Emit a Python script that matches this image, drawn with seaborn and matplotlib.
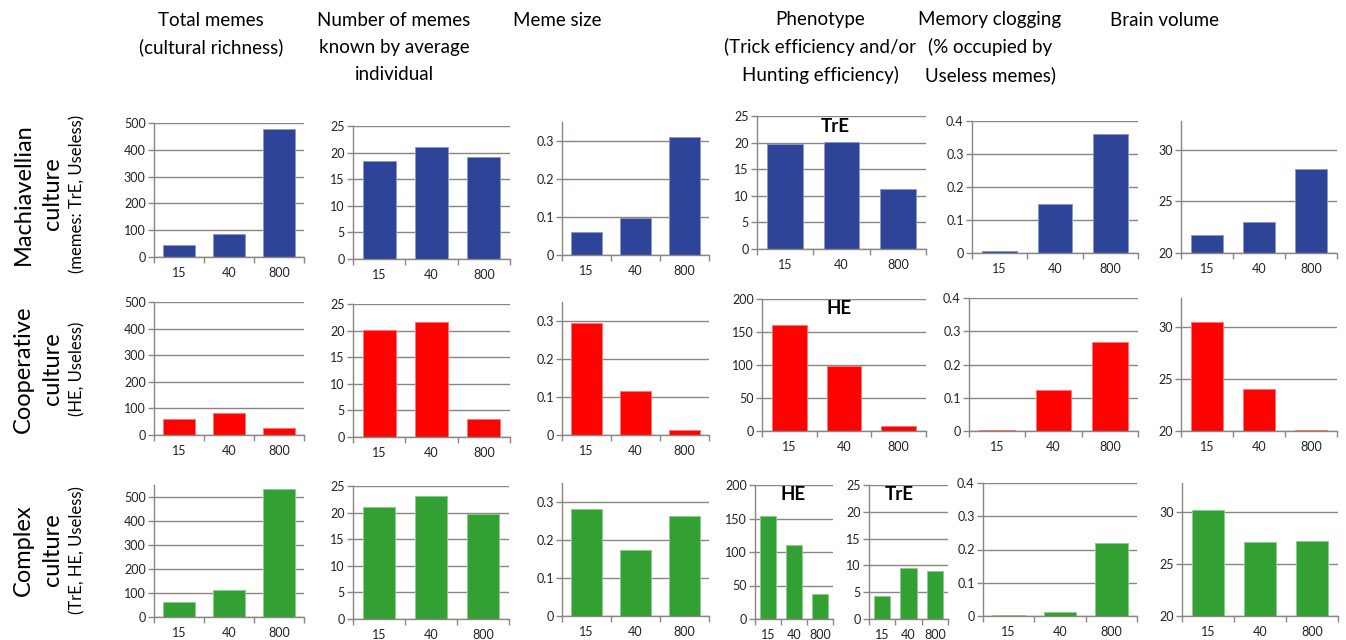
import matplotlib
matplotlib.use("Agg")
import matplotlib.pyplot as plt
from matplotlib.ticker import FuncFormatter
from matplotlib.colors import to_rgb
import seaborn as sns

# ---------------------------------------------------------------- data
population = ["15", "40", "800"]

# Machiavellian culture (memes: TrE, Useless)
mach_total = [45, 87, 478]
mach_known = [18.4, 21.0, 19.1]
mach_size = [0.061, 0.097, 0.31]
mach_tre = [19.7, 20.2, 11.2]
mach_clog = [0.007, 0.148, 0.362]
mach_brain = [21.7, 23.0, 28.1]

# Cooperative culture (HE, Useless)
coop_total = [62, 83, 25]
coop_known = [20.1, 21.7, 3.3]
coop_size = [0.294, 0.116, 0.012]
coop_he = [160, 98, 8]
coop_clog = [0.003, 0.122, 0.268]
coop_brain = [30.5, 24.0, 20.1]

# Complex culture (TrE, HE, Useless)
comp_total = [64, 111, 532]
comp_known = [21.0, 23.2, 19.7]
comp_size = [0.281, 0.174, 0.262]
comp_he = [154, 110, 37]
comp_tre = [4.3, 9.6, 9.0]
comp_clog = [0.003, 0.013, 0.221]
comp_brain = [30.2, 27.1, 27.2]

column_titles = [
    ["Total memes", "(cultural richness)"],
    ["Number of memes", "known by average", "individual"],
    ["Meme size"],
    ["Phenotype", "(Trick efficiency and/or", "Hunting efficiency)"],
    ["Memory clogging", "(% occupied by", "Useless memes)"],
    ["Brain volume"],
]
row_titles = [
    ("Machiavellian", "culture", "(memes: TrE, Useless)"),
    ("Cooperative", "culture", "(HE, Useless)"),
    ("Complex", "culture", "(TrE, HE, Useless)"),
]

BLUE = "#2E4499"
RED = "#FF0202"
GREEN = "#33A033"
GRID = "#8a8682"
TEXT = "#222222"

# ---------------------------------------------------------------- figure
W, H = 1346, 640
sns.set_style("white")
plt.rcParams["font.family"] = ["Lato", "DejaVu Sans"]

fig = plt.figure(figsize=(W / 100, H / 100), dpi=100)
fig.patch.set_facecolor("white")


def lighten(c, f=0.45):
    r, g, b = to_rgb(c)
    return (r + (1 - r) * f, g + (1 - g) * f, b + (1 - b) * f)


def panel(box, values, color, ylim, ticks):
    x0, x1, ytop, ybot = box
    ax = fig.add_axes([x0 / W, 1 - ybot / H, (x1 - x0) / W, (ybot - ytop) / H])
    sns.barplot(x=population, y=values, ax=ax, color=color, saturation=1,
                width=0.63, edgecolor=lighten(color), linewidth=0.7)
    ax.set_xlim(-0.5, 2.5)
    ax.set_ylim(*ylim)
    ax.set_yticks(ticks)
    ax.yaxis.set_major_formatter(FuncFormatter(lambda v, p: f"{v:g}"))
    ax.set_xlabel("")
    ax.set_ylabel("")
    ax.set_facecolor("white")
    for s in ("top", "right"):
        ax.spines[s].set_visible(False)
    for s in ("left", "bottom"):
        ax.spines[s].set_color(GRID)
        ax.spines[s].set_linewidth(1.0)
    ax.grid(axis="y", color=GRID, linewidth=1.0)
    ax.grid(axis="x", visible=False)
    ax.set_axisbelow(True)
    ax.tick_params(axis="y", length=4, width=1, color=GRID, labelsize=9,
                   labelcolor=TEXT, pad=2, left=True)
    ax.set_xticks([-0.5, 0.5, 1.5, 2.5], minor=True)
    ax.tick_params(axis="x", which="major", length=0, labelsize=9,
                   labelcolor=TEXT, pad=7)
    ax.tick_params(axis="x", which="minor", length=4, width=1, color=GRID,
                   bottom=True)
    return ax


def px_text(x, y, s, **kw):
    fig.text(x / W, 1 - y / H, s, **kw)


# ---------------------------------------------------------------- row 1
panel((154, 304, 123, 257), mach_total, BLUE, (0, 500), range(0, 501, 100))
panel((353, 510, 126, 259), mach_known, BLUE, (0, 25), range(0, 26, 5))
panel((562, 709, 122, 255), mach_size, BLUE, (0, 0.35), [0, 0.1, 0.2, 0.3])
panel((757, 926, 116, 249), mach_tre, BLUE, (0, 25), range(0, 26, 5))
panel((972, 1138, 121, 253), mach_clog, BLUE, (0, 0.4), [0, 0.1, 0.2, 0.3, 0.4])
panel((1181, 1337, 121, 253), mach_brain, BLUE, (20, 32.8), [20, 25, 30])

# ---------------------------------------------------------------- row 2
panel((154, 304, 302, 435), coop_total, RED, (0, 500), range(0, 501, 100))
panel((353, 510, 304, 437), coop_known, RED, (0, 25), range(0, 26, 5))
panel((562, 709, 302, 435), coop_size, RED, (0, 0.35), [0, 0.1, 0.2, 0.3])
panel((762, 926, 299, 431), coop_he, RED, (0, 200), range(0, 201, 50))
panel((969, 1138, 298, 431), coop_clog, RED, (0, 0.4), [0, 0.1, 0.2, 0.3, 0.4])
panel((1181, 1337, 298, 431), coop_brain, RED, (20, 32.8), [20, 25, 30])

# ---------------------------------------------------------------- row 3
panel((154, 304, 485, 617), comp_total, GREEN, (0, 550), range(0, 501, 100))
panel((353, 509, 486, 619), comp_known, GREEN, (0, 25), range(0, 26, 5))
panel((562, 709, 483, 616), comp_size, GREEN, (0, 0.35), [0, 0.1, 0.2, 0.3])
panel((755, 833, 485, 619), comp_he, GREEN, (0, 200), range(0, 201, 50))
panel((869, 948, 485, 619), comp_tre, GREEN, (0, 25), range(0, 26, 5))
panel((983, 1137, 483, 616), comp_clog, GREEN, (0, 0.4), [0, 0.1, 0.2, 0.3, 0.4])
panel((1182, 1338, 483, 616), comp_brain, GREEN, (20, 32.8), [20, 25, 30])

# ---------------------------------------------------------------- labels inside phenotype panels
bold = dict(fontsize=13.5, fontweight="bold", color="black", ha="center", va="center")
px_text(835, 127, "TrE", **bold)
px_text(839, 308, "HE", **bold)
px_text(793, 494, "HE", **bold)
px_text(899, 494, "TrE", **bold)

# ---------------------------------------------------------------- column headers
header_x = [211, 394, 557, 820, 990, 1165]
line_y = [20, 47, 75]
for cx, lines in zip(header_x, column_titles):
    for ly, s in zip(line_y, lines):
        px_text(cx, ly, s, fontsize=13.5, color="black", ha="center", va="center")

# ---------------------------------------------------------------- row headers
row_y = [194, 369, 550]
for cy, (main, second, sub) in zip(row_y, row_titles):
    px_text(23, cy, main, fontsize=17, rotation=90, ha="center", va="center", color="black")
    px_text(53, cy, second, fontsize=17, rotation=90, ha="center", va="center", color="black")
    px_text(77, cy, sub, fontsize=12, rotation=90, ha="center", va="center", color="black")

fig.savefig("out.png", dpi=100, facecolor="white")
